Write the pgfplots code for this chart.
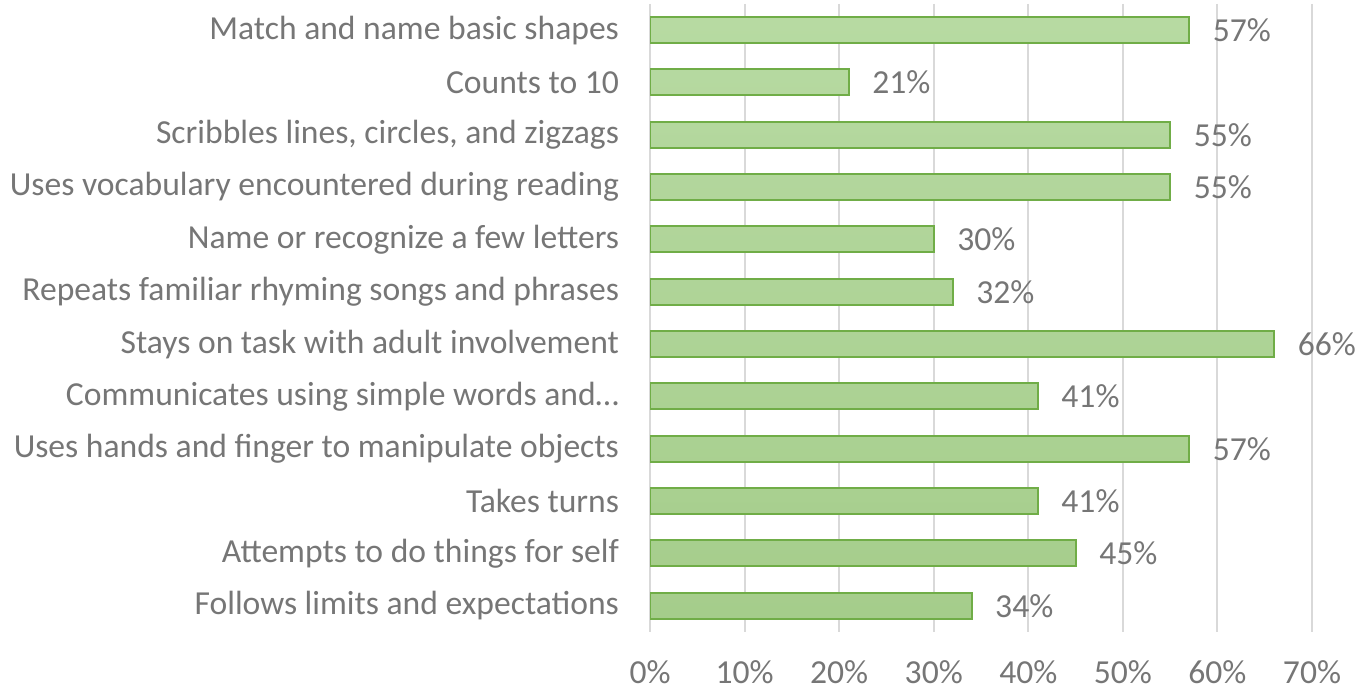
\documentclass[border=0pt]{standalone}
\usepackage{pgfplots}
\pgfplotsset{compat=1.18}
\usepackage{fontspec}
\setmainfont{Carlito}
\definecolor{txtc}{HTML}{767676}
\definecolor{gridc}{HTML}{D9D9D9}
\definecolor{barline}{HTML}{70AD47}
\definecolor{bartop}{HTML}{B7DAA2}
\definecolor{barbot}{HTML}{A5CD8B}
\begin{document}
\begin{tikzpicture}
\begin{axis}[
    xbar, scale only axis,
    width=331pt, height=314pt,
    xmin=0, xmax=0.7,
    ymin=-0.5, ymax=11.5, y dir=reverse,
    bar width=13pt,
    axis line style={draw=none},
    xmajorgrids, ymajorgrids=false,
    x grid style={draw=gridc, line width=1pt},
    major tick length=0pt,
    /pgf/number format/assume math mode=true,
    xtick={0,0.1,...,0.7},
    xticklabels={0\%,10\%,20\%,30\%,40\%,50\%,60\%,70\%},
    ytick={0,...,11},
    yticklabels={Match and name basic shapes,Counts to 10,{Scribbles lines, circles, and zigzags},Uses vocabulary encountered during reading,Name or recognize a few letters,Repeats familiar rhyming songs and phrases,Stays on task with adult involvement,Communicates using simple words and\ldots,Uses hands and finger to manipulate objects,Takes turns,Attempts to do things for self,Follows limits and expectations},
    xticklabel style={font=\fontsize{16.8}{19}\selectfont, text=txtc, inner sep=1pt, yshift=-13pt},
    yticklabel style={font=\fontsize{16.8}{19}\selectfont, text=txtc, xshift=-12pt},
    nodes near coords={\pgfmathprintnumber[fixed,precision=0]{\pgfplotspointmeta}\%},
    point meta={x*100},
    every node near coord/.append style={font=\fontsize{16.8}{19}\selectfont, text=txtc, anchor=west, xshift=8pt},
]
\addplot[draw=barline, line width=1pt, top color=bartop, bottom color=barbot] coordinates {
 (0.57,0) (0.21,1) (0.55,2) (0.55,3) (0.30,4) (0.32,5)
 (0.66,6) (0.41,7) (0.57,8) (0.41,9) (0.45,10) (0.34,11)
};
\coordinate (bl) at (rel axis cs:-0.982,-0.0955);
\coordinate (tr) at (rel axis cs:1.0906,1.00637);
\end{axis}
\pgfresetboundingbox
\useasboundingbox (bl) rectangle (tr);
\end{tikzpicture}
\end{document}
